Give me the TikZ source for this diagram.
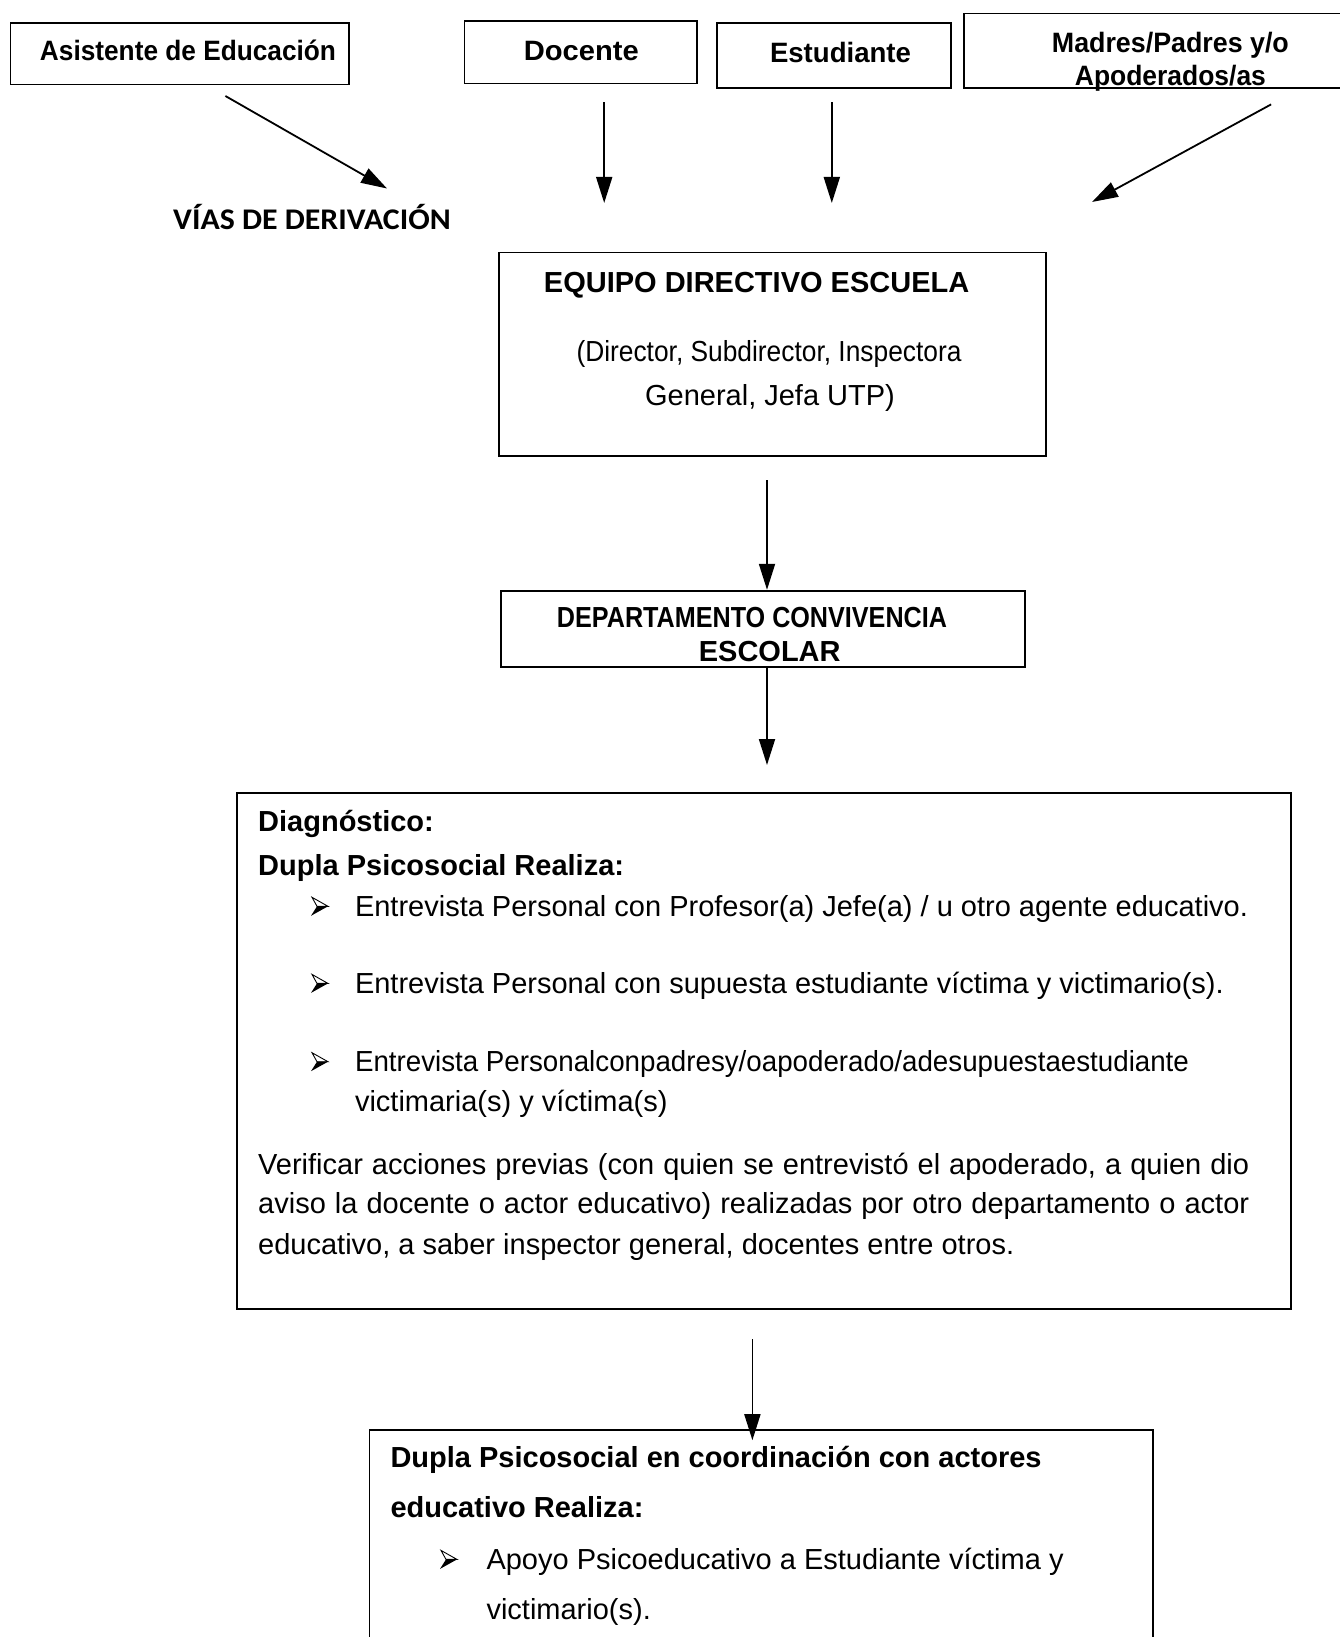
\documentclass[tikz,border=0pt]{standalone}
\usepackage{fontspec}
\usepackage{graphicx}
\setmainfont{Liberation Sans}
\newfontfamily\calibri{Carlito}
\usetikzlibrary{arrows.meta,calc}
\newcommand{\fsz}[1]{\fontsize{#1}{#1}\selectfont}
\newcommand{\wfit}[2]{\resizebox{#1}{\height}{#2}}
\begin{document}
\begin{tikzpicture}[x=1pt,y=-1pt,
  box/.style={draw, line width=1.8pt, inner sep=0pt},
  arr/.style={line width=1.8pt, -{Triangle[length=26pt,width=16pt]}},
  txt/.style={inner sep=0pt, anchor=base},
  txtl/.style={inner sep=0pt, anchor=base west},
  bul/.pic={
    \draw[line width=0.9pt, line join=miter] (1,-9) -- (17,0) -- (6,0) -- cycle;
    \fill (6,0) -- (17,0) -- (0,9.5) -- cycle;
  },
]
\useasboundingbox (0,0) rectangle (1340,1637);
\fill[white] (0,0) rectangle (1340,1637);

% ---------- boxes ----------
\node[box, minimum width=338.2, minimum height=61.5] (asis) at (179.5,53.75) {};
\node[box, minimum width=232.7, minimum height=62.6] (doc) at (580.75,52.2) {};
\node[box, minimum width=233.7, minimum height=64.7] (est) at (833.85,55.35) {};
\node[box, minimum width=415.7, minimum height=74.1] (mad) at (1172.15,50.65) {};
\node[box, minimum width=546.9, minimum height=203.5] (equipo) at (772.25,354.35) {};
\node[box, minimum width=523.9, minimum height=76.2] (dept) at (762.85,628.8) {};
\node[box, minimum width=1054, minimum height=515.6] (diag) at (763.9,1050.9) {};
\node[box, minimum width=783.8, minimum height=230.2] (apoyo) at (761.3,1544.9) {};

% ---------- top texts ----------
\node[txt, font=\bfseries\fsz{28}] (tasis) at (188,61) {\wfit{296pt}{Asistente de Educación}};
\node[txt, font=\bfseries\fsz{28}] (tdoc) at (581.3,61) {\wfit{115pt}{Docente}};
\node[txt, font=\bfseries\fsz{28}] (test) at (840.5,63) {\wfit{141pt}{Estudiante}};
\node[txt, font=\bfseries\fsz{28}] (tmad1) at (1170.4,53) {\wfit{237pt}{Madres/Padres y/o}};
\node[txt, font=\bfseries\fsz{28}] (tmad2) at (1170.4,86) {\wfit{191pt}{Apoderados/as}};

\node[txt, font=\calibri\bfseries\fsz{30}] (vias) at (312,230) {\wfit{277.6pt}{VÍAS DE DERIVACIÓN}};

% ---------- arrows from the top ----------
\coordinate (a1s) at (225.4,96);   \coordinate (a1e) at (387,188.5);
\coordinate (a2s) at (604.2,102.3); \coordinate (a2e) at (604.2,203);
\coordinate (a3s) at (831.8,102.3); \coordinate (a3e) at (831.8,203);
\coordinate (a4s) at (1271.1,104.4); \coordinate (a4e) at (1092,202);
\draw[arr] (a1s) -- (a1e);
\draw[arr] (a2s) -- (a2e);
\draw[arr] (a3s) -- (a3e);
\draw[arr] (a4s) -- (a4e);

% ---------- equipo directivo ----------
\node[txt, font=\bfseries\fsz{29}] (teq1) at (756.6,292) {EQUIPO DIRECTIVO ESCUELA};
\node[txt, font=\fsz{29}] (teq2) at (769,361) {\wfit{385pt}{(Director, Subdirector, Inspectora}};
\node[txt, font=\fsz{29}] (teq3) at (770,405) {General, Jefa UTP)};

\coordinate (b1s) at (767,480);
\draw[arr] (b1s) -- (b1s |- dept.north);

% ---------- departamento ----------
\node[txt, font=\bfseries\fsz{29}] (tdp1) at (752,627) {\wfit{390pt}{DEPARTAMENTO CONVIVENCIA}};
\node[txt, font=\bfseries\fsz{29}] (tdp2) at (769.7,661.6) {ESCOLAR};

\coordinate (c1e) at (767,765);
\draw[arr] (c1e |- dept.south) -- (c1e);

% ---------- diagnostico ----------
\node[txtl, font=\bfseries\fsz{29}] (d1) at (258,831.7) {Diagnóstico:};
\node[txtl, font=\bfseries\fsz{29}] (d2) at (258,875.6) {Dupla Psicosocial Realiza:};
\pic at (311,906.3) {bul};
\node[txtl, font=\fsz{29}] (d3) at (354.8,916.3) {Entrevista Personal con Profesor(a) Jefe(a) / u otro agente educativo.};
\pic at (311,983.4) {bul};
\node[txtl, font=\fsz{29}] (d4) at (354.8,993.4) {Entrevista Personal con supuesta estudiante víctima y victimario(s).};
\pic at (311,1061.7) {bul};
\node[txtl, font=\fsz{29}] (d5) at (354.8,1071.7) {\wfit{834pt}{Entrevista Personalconpadresy/oapoderado/adesupuestaestudiante}};
\node[txtl, font=\fsz{29}] (d6) at (354.8,1111.4) {victimaria(s) y víctima(s)};
\node[txtl, font=\fsz{29}] (d7) at (258,1174) {\makebox[991pt][s]{Verificar acciones previas (con quien se entrevistó el apoderado, a quien dio}};
\node[txtl, font=\fsz{29}] (d8) at (258,1213.4) {\makebox[991pt][s]{aviso la docente o actor educativo) realizadas por otro departamento o actor}};
\node[txtl, font=\fsz{29}] (d9) at (258,1254.4) {educativo, a saber inspector general, docentes entre otros.};

\coordinate (e1s) at (752.4,1339);
\coordinate (e1e) at (752.4,1440.2);
\draw[arr] (e1s) -- (e1e);

% ---------- apoyo ----------
\node[txtl, font=\bfseries\fsz{29}] (p1) at (390.3,1467.3) {Dupla Psicosocial en coordinación con actores};
\node[txtl, font=\bfseries\fsz{29}] (p2) at (390.3,1517.4) {educativo Realiza:};
\pic at (440,1559.4) {bul};
\node[txtl, font=\fsz{29}] (p3) at (486.3,1569.4) {Apoyo Psicoeducativo a Estudiante víctima y};
\node[txtl, font=\fsz{29}] (p4) at (486.3,1619.7) {victimario(s).};
\end{tikzpicture}
\end{document}
